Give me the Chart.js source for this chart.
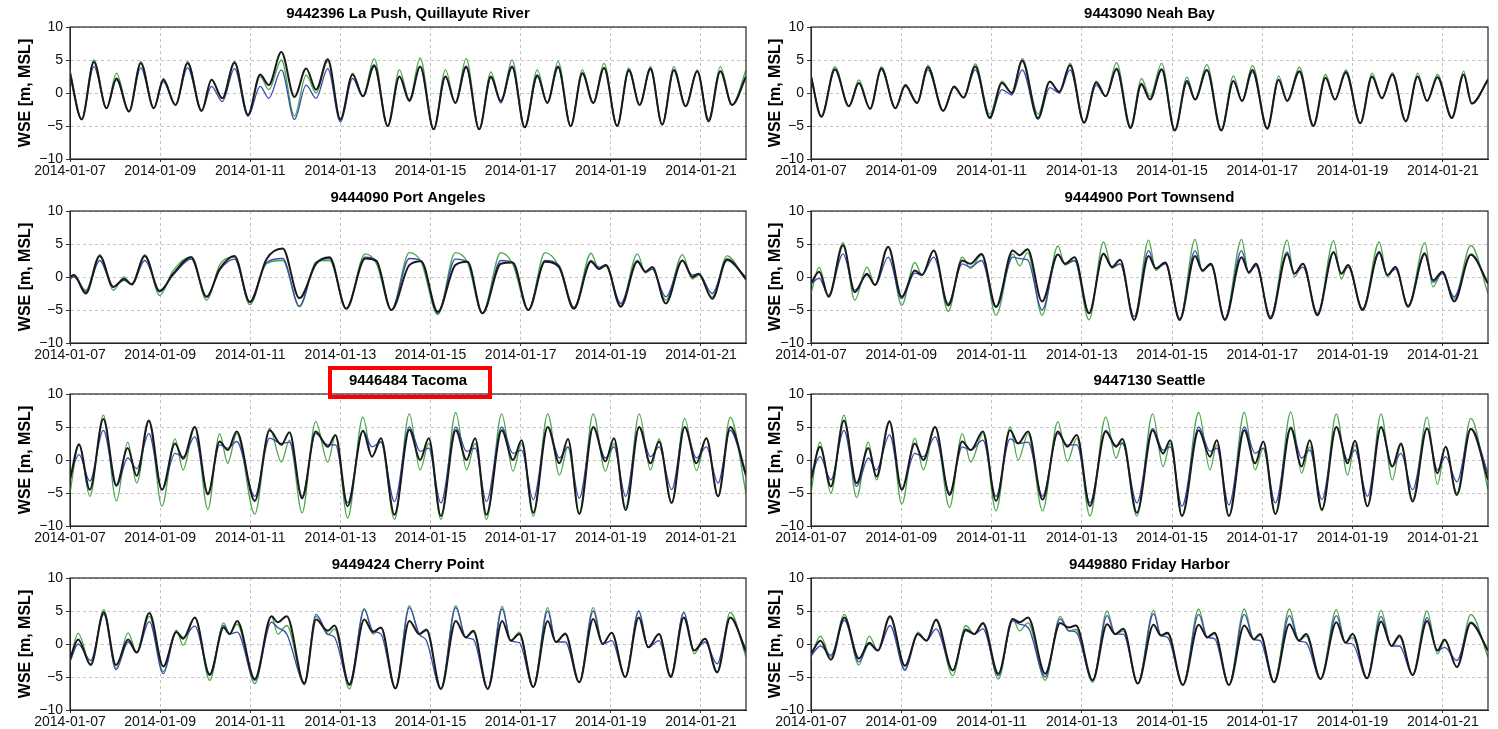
<!DOCTYPE html>
<html>
<head>
<meta charset="utf-8">
<script src="https://cdn.jsdelivr.net/npm/chart.js@4.4.1/dist/chart.umd.min.js"></script>
<style>
  html, body { margin: 0; padding: 0; background: #fff; overflow: hidden; }
  #page { position: relative; width: 1498px; height: 729px; }
  .panel { position: absolute; }
</style>
</head>
<body>
<div id="page"></div>
<script>
// x values are days since 2014-01-07 00:00, y values are WSE in m
const tickDays = [0, 2, 4, 6, 8, 10, 12, 14];
const tickLabels = ["2014-01-07", "2014-01-09", "2014-01-11", "2014-01-13",
  "2014-01-15", "2014-01-17", "2014-01-19", "2014-01-21"];
const yTicks = [-10, -5, 0, 5, 10];

// 9442396 La Push
const laPushT = [0, 0.26, 0.53, 0.81, 1.03, 1.31, 1.57, 1.86, 2.07, 2.34, 2.61, 2.92, 3.14, 3.38, 3.65, 3.95, 4.22, 4.41, 4.69, 4.98, 5.24, 5.46, 5.72, 6.0, 6.27, 6.5, 6.75, 7.05, 7.31, 7.53, 7.77, 8.07, 8.33, 8.55, 8.79, 9.08, 9.34, 9.56, 9.81, 10.09, 10.37, 10.59, 10.83, 11.11, 11.37, 11.61, 11.85, 12.14, 12.4, 12.64, 12.88, 13.14, 13.4, 13.66, 13.92, 14.17, 14.43, 14.69, 15];
const laPushGreen = [3.5, -4, 5, -2.3, 3, -2.8, 4.8, -2.3, 2.2, -1.8, 4.8, -2.7, 2, -0.8, 4.8, -3.5, 2.5, 0.5, 5, -3.5, 2.7, 0, 4.8, -4.2, 3, -0.5, 5.2, -5, 3.5, -1, 5.3, -5.5, 3.5, -1.5, 5.2, -5.5, 3.2, -1.5, 5, -5.2, 3.5, -1.5, 4.8, -5, 3.5, -1.5, 4.5, -5, 3.8, -1.8, 4, -4.8, 4, -2, 3.5, -4, 4, -1.8, 3.5];
const laPushBlue = [2.5, -4, 4, -2.3, 2, -2.8, 3.8, -2.3, 1.7, -1.8, 3.8, -2.7, 1, -1.3, 3.7, -3.5, 1, -0.8, 3.5, -4, 1.2, -0.8, 3.7, -4.4, 2.2, -0.5, 4, -5, 2.5, -1, 4, -5.5, 2.5, -1.5, 3.8, -5.5, 2.3, -1.5, 3.8, -5.2, 2.5, -1.5, 3.8, -5, 3, -1.5, 3.8, -5, 3.3, -1.8, 3.5, -4.8, 3.4, -2, 3.3, -4, 3.3, -1.8, 2.5];
const laPushBlack = [3, -4, 4.7, -2.3, 2.2, -2.8, 4.5, -2.3, 2, -1.8, 4.5, -2.7, 2, -0.8, 4.6, -3.3, 2.8, 1.2, 6.2, -0.6, 3.7, 0.5, 5.1, -4, 2.8, -0.5, 4.2, -5, 2.5, -1.2, 4, -5.5, 2.5, -1.5, 4, -5.5, 2.5, -1.2, 4, -5.2, 2.7, -1.5, 4, -5, 3, -1.5, 3.8, -5, 3.5, -1.8, 3.7, -4.8, 3.5, -2, 3.3, -4.3, 3.3, -1.8, 2.5];

// 9443090 Neah Bay
const neahT = [0, 0.23, 0.53, 0.84, 1.06, 1.31, 1.56, 1.87, 2.09, 2.35, 2.59, 2.93, 3.17, 3.38, 3.64, 3.96, 4.23, 4.45, 4.68, 5.03, 5.29, 5.5, 5.74, 6.05, 6.32, 6.53, 6.77, 7.08, 7.32, 7.51, 7.77, 8.06, 8.33, 8.51, 8.77, 9.09, 9.36, 9.55, 9.78, 10.11, 10.36, 10.55, 10.82, 11.13, 11.4, 11.61, 11.85, 12.17, 12.43, 12.65, 12.88, 13.18, 13.44, 13.65, 13.88, 14.2, 14.46, 14.64, 15];
const neahGreen = [2.7, -3.5, 4, -2, 2, -2.4, 4, -2.3, 1.2, -1.5, 4.2, -2.7, 1, -0.7, 4.4, -3.2, 1.8, 0, 5.2, -3.2, 1.8, 0, 4.5, -4.5, 1.8, -0.5, 4.6, -5, 2.2, -0.5, 4.5, -5.5, 2.4, -1, 4.3, -5.5, 2.6, -1.2, 4.2, -5.2, 2.6, -1.2, 3.9, -4.8, 2.8, -1, 3.5, -4.5, 3, -0.8, 3.1, -4.2, 3, -1.2, 2.8, -3.6, 3.3, -1.6, 2.2];
const neahBlue = [2.5, -3.5, 3.5, -2, 1.5, -2.4, 3.6, -2.3, 1, -1.5, 3.5, -2.7, 0.8, -0.7, 3.5, -3.6, 0.5, -0.3, 3.5, -4, 0.8, 0, 3.5, -4.5, 1.2, -0.5, 3.5, -5.3, 1.2, -1, 3.5, -5.7, 1.5, -1, 3.5, -5.7, 1.8, -1.2, 3.2, -5.4, 2, -1.2, 3.2, -5, 2.3, -1, 3, -4.6, 2.5, -0.8, 2.8, -4.3, 2.5, -1.2, 2.4, -3.8, 2.8, -1.6, 2];
const neahBlack = [2.5, -3.6, 3.6, -2, 1.5, -2.4, 3.7, -2.3, 1.2, -1.5, 3.9, -2.7, 1, -0.7, 4, -3.8, 1.5, 0, 4.9, -3.8, 1.7, 0.2, 4.2, -4.5, 1.6, -0.5, 3.7, -5.3, 1.4, -1, 3.6, -5.7, 1.8, -1, 3.5, -5.7, 1.8, -1.2, 3.5, -5.4, 2, -1.2, 3.3, -5, 2.3, -1, 3.2, -4.6, 2.5, -0.8, 2.8, -4.3, 2.5, -1.2, 2.4, -3.8, 2.8, -1.6, 2];

// 9444090 Port Angeles
const angelesT = [0, 0.09, 0.35, 0.66, 0.96, 1.2, 1.37, 1.66, 1.99, 2.29, 2.69, 3.03, 3.32, 3.65, 3.99, 4.36, 4.72, 5.09, 5.46, 5.76, 6.13, 6.55, 6.8, 7.13, 7.53, 7.79, 8.16, 8.55, 8.82, 9.15, 9.56, 9.82, 10.17, 10.54, 10.85, 11.18, 11.56, 11.74, 11.89, 12.22, 12.59, 12.77, 12.92, 13.22, 13.59, 13.81, 13.95, 14.25, 14.58, 15];
const angelesGreen = [-0.5, 0.2, -2, 3.4, -2, 0, -1.2, 3.4, -2.8, 1, 3.1, -3.5, 1.8, 3, -4.2, 2, 2.5, -4.5, 2.3, 2.5, -4.8, 3.5, 2, -5, 3.7, 2.3, -5.7, 3.7, 2.2, -5.5, 3.7, 2, -5, 3.7, 1.6, -4.8, 3.6, 1.2, 1.6, -4.3, 3.5, 0.6, 1.2, -3.5, 3.4, -0.3, 0.3, -3, 3.2, -0.5];
const angelesBlue = [0, 0, -2.2, 2.5, -1.5, -0.5, -1.2, 2.5, -2, 0.3, 2.7, -3, 1, 2.7, -3.7, 2.2, 2.8, -4.4, 2.2, 2.8, -4.8, 3, 2.5, -5, 2.8, 2.5, -5.5, 2.7, 2.3, -5.5, 2.5, 2.2, -5, 2.5, 1.8, -4.6, 2.5, 1.5, 1.8, -4, 2.5, 0.8, 1.2, -3, 2.5, 0.3, 0.5, -2.5, 2.5, 0];
const angelesBlack = [0, 0.3, -2.5, 3.2, -1.5, -0.3, -1.1, 3.2, -2.2, 0.5, 3, -3, 1.2, 3.2, -3.8, 2.7, 4.3, -3.2, 2, 3, -4.8, 2.8, 2.4, -5, 1.8, 2.4, -5.3, 1.8, 2.3, -5.5, 2, 2.2, -5, 2.3, 1.5, -4.8, 2.3, 1.2, 1.8, -4.5, 2.3, 0.8, 1.5, -4, 2.5, 0, 0.5, -3.3, 2.7, -0.3];

// 9444900 Port Townsend
const townsendT = [0, 0.18, 0.39, 0.71, 0.97, 1.24, 1.42, 1.71, 2.01, 2.3, 2.46, 2.72, 3.04, 3.35, 3.53, 3.78, 4.1, 4.47, 4.62, 4.8, 5.12, 5.47, 5.63, 5.84, 6.16, 6.48, 6.67, 6.85, 7.16, 7.48, 7.64, 7.85, 8.17, 8.51, 8.67, 8.86, 9.17, 9.54, 9.7, 9.86, 10.18, 10.55, 10.71, 10.9, 11.22, 11.58, 11.75, 11.9, 12.22, 12.59, 12.77, 12.95, 13.23, 13.6, 13.78, 13.99, 14.25, 14.62, 15];
const townsendGreen = [-2.5, 1.5, -2.8, 5.2, -3.5, 1.5, -1.2, 4.5, -4.3, 2.2, 0.3, 4, -5.2, 3, 1.3, 3.3, -5.8, 3.5, 1.7, 3.7, -5.8, 4.7, 1.8, 2.5, -6.5, 5.3, 1.3, 2, -6.5, 5.6, 1, 2.2, -6.5, 5.7, 0.8, 2, -6.5, 5.7, 0.5, 2, -6.3, 5.6, 0, 2, -5.8, 5.5, -0.3, 1.8, -5, 5.3, 0, 1.5, -4.5, 5.2, -1.5, 0.8, -3.3, 4.8, -2.5];
const townsendBlue = [-1, -0.2, -2.8, 3.5, -2, 0.3, -1.2, 3, -3.3, 0.6, 0.3, 3, -4, 2, 1.5, 2.5, -4.6, 3, 2.8, 2.6, -5, 3.4, 2, 2.5, -5.5, 3.6, 1.5, 2, -6, 4, 1.3, 2, -6.3, 4, 1, 1.8, -6.3, 4, 0.7, 1.7, -6, 3.8, 0.5, 1.5, -5.5, 3.7, 0.5, 1.5, -4.8, 3.6, 0.3, 1.2, -4.3, 3.4, -0.8, 0.5, -3, 3.3, -1];
const townsendBlack = [-1, 0.8, -3, 4.8, -2.3, 0.5, -1.2, 4.6, -3, 1, 0.3, 4, -4.3, 2.5, 2, 3.5, -4.5, 4, 3.3, 4.2, -3.7, 3.4, 2, 3, -5.5, 3.5, 1.5, 2.6, -6.5, 3.2, 1.3, 2.2, -6.5, 3.2, 1, 2, -6.5, 3, 0.7, 2, -6.3, 3.5, 0.5, 2, -5.8, 3.8, 0.5, 1.8, -5, 3.8, 0.3, 1.5, -4.5, 3.6, -0.5, 0.8, -3.7, 3.4, -1];

// 9446484 Tacoma
const tacomaT = [0, 0.2, 0.44, 0.74, 1.03, 1.28, 1.48, 1.75, 2.04, 2.33, 2.51, 2.77, 3.06, 3.32, 3.5, 3.7, 4.1, 4.43, 4.69, 4.87, 5.15, 5.45, 5.72, 5.89, 6.16, 6.5, 6.7, 6.9, 7.2, 7.53, 7.77, 7.96, 8.23, 8.56, 8.8, 8.99, 9.24, 9.58, 9.83, 10.02, 10.28, 10.6, 10.86, 11.05, 11.3, 11.61, 11.88, 12.07, 12.33, 12.63, 12.88, 13.07, 13.35, 13.64, 13.9, 14.12, 14.38, 14.65, 15];
const tacomaGreen = [-5, 2.5, -5.5, 6.8, -6.2, 2.7, -3.5, 5.8, -7, 3.2, -1.5, 5, -7.5, 4, -0.5, 4, -8.2, 4.8, -0.3, 3, -8, 5.8, -0.3, 3.7, -8.8, 6.5, 0.5, 2.8, -9, 7, -1.5, 2.5, -9, 7.2, -1.5, 2.5, -9, 7, -1.7, 2.5, -8.5, 7, -2.3, 2, -8, 7, -1.7, 2.5, -7.2, 7, -1.5, 3.2, -6.5, 6.3, -1.6, 3.3, -5.5, 6.5, -5];
const tacomaBlue = [-2.5, 0.8, -3.2, 4.5, -4, 0.3, -1.3, 4, -4.5, 1, 0.5, 3.5, -5, 2.3, 1.8, 2.8, -5.5, 3.3, 2.5, 2.7, -5.5, 4, 2.3, 2.3, -6.5, 4.5, 2, 2.7, -6.3, 5, 1.3, 1.8, -6.5, 5, 1.3, 1.8, -6.3, 5, 1, 1.5, -6, 5, 0.3, 2, -5.8, 5, 0.3, 2, -5.5, 5, 0.5, 2, -4.5, 5, 0.3, 2, -3.5, 4.5, -2.5];
const tacomaBlack = [-3, 2.3, -4.5, 6.2, -3.8, 1.8, -2.4, 6, -4.5, 2.5, 0.2, 5, -5.2, 2.8, 1.5, 4.3, -6.2, 4.5, 2.3, 4.2, -5.8, 4.3, 2, 3.8, -7, 4.4, 0.5, 3.3, -8.3, 4.6, 0, 3.3, -8.5, 4.5, 0, 3.3, -8.3, 4.5, 0, 3, -8, 5, -0.5, 3.2, -8.2, 5, -0.2, 3.3, -7.6, 5, -0.5, 2.8, -6.5, 5, -0.5, 3.3, -5.5, 5, -2.2];

// 9447130 Seattle
const seattleT = [0, 0.2, 0.44, 0.73, 1.01, 1.27, 1.45, 1.74, 2.01, 2.3, 2.49, 2.75, 3.07, 3.35, 3.54, 3.81, 4.1, 4.41, 4.59, 4.81, 5.13, 5.47, 5.68, 5.89, 6.18, 6.53, 6.76, 6.9, 7.22, 7.57, 7.8, 7.96, 8.22, 8.59, 8.84, 8.99, 9.26, 9.6, 9.84, 10.02, 10.29, 10.63, 10.87, 11.05, 11.32, 11.64, 11.89, 12.05, 12.33, 12.63, 12.88, 13.07, 13.33, 13.65, 13.88, 14.06, 14.31, 14.62, 15];
const seattleGreen = [-5, 2.7, -5, 6.8, -5.7, 2.7, -3, 6, -6.7, 3.3, -1.5, 5, -7.2, 4, -0.3, 4, -7.7, 5, 0, 4, -7.7, 5.8, -0.2, 3.3, -8.5, 6.5, 0.3, 2.7, -8.5, 7, -1, 2.5, -8.5, 7.2, -1.5, 2.3, -8.5, 7.2, -1.5, 1.8, -8.2, 7.3, -2, 2, -7.7, 7, -2.3, 2.3, -7, 7, -3, 2.3, -6, 6.5, -3.7, 2, -5, 6.3, -4.5];
const seattleBlue = [-2.5, 0.5, -3, 4.5, -4, 0.3, -1.5, 3.8, -4.3, 1, 0.5, 3.5, -5, 2, 1.5, 3, -5.5, 3.2, 2.5, 2.7, -5.5, 4, 2.3, 2.3, -6.5, 4.5, 2.2, 2.5, -6.5, 4.8, 1.5, 2, -7, 5, 1.3, 1.8, -6.8, 5, 1, 1.8, -6.5, 5, 0.3, 1.5, -6, 5, 0, 1.5, -5.5, 5, -1, 1, -4.5, 4.8, -1.5, 0.5, -3.3, 4.8, -2];
const seattleBlack = [-3, 2, -4, 6, -3.5, 1.8, -2.5, 5.8, -4.5, 2.5, 0, 5, -5.3, 2.8, 1.5, 4.3, -6.2, 4.5, 2.5, 4.3, -6, 4.3, 2, 3.8, -7, 4.3, 2, 3.2, -8, 4.5, 1, 3, -8.5, 4.5, 0.5, 3, -8.5, 4.5, -0.5, 2.8, -8.2, 4.8, -1, 3, -7.5, 5, -0.5, 2.9, -7, 5, -1, 2.5, -6.3, 4.8, -2, 2, -5.3, 4.7, -3];

// 9449424 Cherry Point
const cherryT = [0, 0.18, 0.46, 0.75, 1.02, 1.29, 1.48, 1.76, 2.07, 2.36, 2.51, 2.77, 3.1, 3.41, 3.54, 3.71, 4.1, 4.47, 4.61, 4.81, 5.2, 5.46, 5.72, 5.87, 6.2, 6.53, 6.72, 6.9, 7.22, 7.53, 7.75, 7.91, 8.23, 8.56, 8.78, 8.95, 9.27, 9.59, 9.78, 9.97, 10.28, 10.6, 10.78, 10.99, 11.3, 11.61, 11.82, 12.02, 12.32, 12.62, 12.83, 13.07, 13.33, 13.62, 13.85, 14.09, 14.36, 14.65, 15];
const cherryGreen = [-2.6, 1.6, -3, 5.2, -3.7, 1.7, -1.3, 4.2, -4.2, 2.1, -0.2, 4, -5.5, 3.2, 1.5, 3, -6, 4.2, 1.5, 2.8, -6.2, 4.2, 1.4, 2.3, -6.8, 5.4, 1.5, 2.5, -6.8, 5.8, 1.5, 2, -6.8, 5.8, 1, 1.8, -6.8, 5.7, 0.5, 1.8, -6.5, 5.5, 0.3, 1.7, -5.8, 5.5, 0, 1.7, -5, 5, -0.5, 1.5, -4.8, 4.8, -1.5, 0.8, -4.2, 4.8, -2];
const cherryBlue = [-2.7, 0, -2.5, 4.5, -3.9, 0.3, -1.3, 3.4, -4.5, 1.8, 1, 2.7, -4.5, 2.8, 1.5, 1.8, -5.5, 3.3, 2.5, 1.5, -5.8, 4.5, 1.5, 1, -6, 5.2, 2, 1.5, -6.7, 5.5, 1.5, 0.5, -6.8, 5.5, 1, 0.7, -6.8, 5.3, 0.5, 0.2, -6.5, 5, 0.3, 0.3, -5.8, 5, 0, 0.5, -5, 5, -0.5, 0.5, -4.8, 4.8, -1, 0.3, -3, 4, -0.8];
const cherryBlack = [-2.3, 0.7, -3.2, 4.8, -3.2, 0.7, -1.3, 4.7, -3.4, 1.8, 0.8, 4, -4.7, 2.5, 1.5, 3.5, -5.3, 4.2, 3.3, 4.2, -6, 3.7, 2, 2.8, -6.2, 3.7, 1.8, 2.5, -6.7, 3.5, 1.5, 2.2, -6.8, 3.5, 1, 2, -6.8, 3.5, 0.5, 1.5, -6.5, 3.5, 0.3, 1.5, -5.8, 3.8, 0, 1.7, -5, 4, -0.5, 1.5, -5, 4, -1, 0.8, -4.3, 4, -1.2];

// 9449880 Friday Harbor
const fridayT = [0, 0.21, 0.44, 0.74, 1.06, 1.29, 1.48, 1.75, 2.08, 2.37, 2.56, 2.77, 3.14, 3.43, 3.62, 3.81, 4.15, 4.47, 4.62, 4.81, 5.19, 5.52, 5.71, 5.87, 6.24, 6.56, 6.74, 6.92, 7.24, 7.59, 7.75, 7.9, 8.24, 8.59, 8.78, 8.94, 9.26, 9.6, 9.81, 9.95, 10.26, 10.6, 10.81, 10.97, 11.29, 11.64, 11.84, 12.0, 12.32, 12.63, 12.86, 13.04, 13.33, 13.65, 13.88, 14.04, 14.31, 14.62, 15];
const fridayGreen = [-2, 1.2, -2, 4.5, -3.2, 1.2, -1, 4, -3.8, 1.8, 0.5, 3.5, -4.8, 2.8, 1.5, 3, -5.3, 3.8, 2, 3.2, -5.5, 4.2, 2, 2.2, -5.8, 5, 1.5, 2, -6, 5.1, 1.3, 1.5, -6.2, 5.3, 1, 1.5, -6.2, 5.3, 0.7, 1.3, -5.8, 5.3, 0.5, 1.2, -5.3, 5.2, 0.2, 1, -5.2, 5.1, -0.3, 1, -4.7, 5, -1.5, 0.5, -3.5, 4.5, -2];
const fridayBlue = [-1.8, -0.3, -1.7, 3.6, -2.7, 0, -1, 2.8, -4, 1.5, 0.5, 2.3, -4, 2, 1.5, 2.3, -4.8, 3.5, 3, 2.5, -5, 3.8, 2, 1.8, -5.5, 4.3, 1.5, 1.5, -6, 4.6, 1.3, 1, -6.2, 4.5, 1, 0.8, -6.2, 4.5, 0.7, 0.5, -5.8, 4.3, 0.5, 0.2, -5.3, 4.3, 0.2, 0, -5.2, 4.2, -0.3, -0.3, -4.7, 4, -1, -0.5, -2.5, 3.3, -1];
const fridayBlack = [-1.5, 0.5, -2.4, 4, -2.2, 0.2, -1, 4.2, -3.3, 1.5, 0.5, 3.7, -4, 2.2, 1.5, 3.2, -4.5, 3.8, 3.3, 4, -4.5, 3.2, 2.5, 2.8, -5.5, 3, 1.5, 2.3, -6, 2.9, 1.3, 1.7, -6.2, 2.9, 1, 1.7, -6.2, 2.8, 0.7, 1.5, -5.8, 3, 0.5, 1.5, -5.3, 3.3, 0.2, 1.5, -5.2, 3.4, -0.3, 1.3, -4.7, 3.5, -1, 0.7, -3.5, 3.2, -1];

const panels = [
  { title: "9442396 La Push, Quillayute River", t: laPushT, green: laPushGreen, blue: laPushBlue, black: laPushBlack },
  { title: "9443090 Neah Bay", t: neahT, green: neahGreen, blue: neahBlue, black: neahBlack },
  { title: "9444090 Port Angeles", t: angelesT, green: angelesGreen, blue: angelesBlue, black: angelesBlack },
  { title: "9444900 Port Townsend", t: townsendT, green: townsendGreen, blue: townsendBlue, black: townsendBlack },
  { title: "9446484 Tacoma", t: tacomaT, green: tacomaGreen, blue: tacomaBlue, black: tacomaBlack, highlight: true },
  { title: "9447130 Seattle", t: seattleT, green: seattleGreen, blue: seattleBlue, black: seattleBlack },
  { title: "9449424 Cherry Point", t: cherryT, green: cherryGreen, blue: cherryBlue, black: cherryBlack },
  { title: "9449880 Friday Harbor", t: fridayT, green: fridayGreen, blue: fridayBlue, black: fridayBlack }
];

// plot area tops for the four rows
const areaTops = [27, 210.5, 394, 578];
const AREA_H = 132;
const PAD_TOP = 32;

Chart.defaults.font.family = "'Liberation Sans', Arial, Helvetica, sans-serif";
Chart.defaults.color = "#111";
Chart.defaults.animation = false;

function hasFont(name) {
  const c = document.createElement("canvas").getContext("2d");
  c.font = "40px monospace";
  const base = c.measureText("2014-01-07 WSE").width;
  c.font = `40px '${name}', monospace`;
  return c.measureText("2014-01-07 WSE").width !== base;
}
const narrow = hasFont("Liberation Sans Narrow");
const xTickFont = narrow ? { family: "'Liberation Sans Narrow', Arial", size: 17 } : { size: 14 };

// frame, title and the red highlight box
const panelDecor = {
  id: "panelDecor",
  afterDraw(chart, args, opts) {
    const { ctx, chartArea: a } = chart;
    ctx.save();
    ctx.strokeStyle = "#262626";
    ctx.lineWidth = 1.2;
    ctx.strokeRect(a.left, a.top, a.right - a.left, a.bottom - a.top);

    const cx = (a.left + a.right) / 2;
    const cy = a.top - 13;
    ctx.fillStyle = "#000";
    ctx.font = "bold 15px 'Liberation Sans', Arial, sans-serif";
    ctx.textAlign = "center";
    ctx.textBaseline = "middle";
    ctx.fillText(opts.text, cx, cy);

    if (opts.highlight) {
      ctx.strokeStyle = "#ff0000";
      ctx.lineWidth = 4;
      ctx.strokeRect(cx - 78, cy - 13, 160, 29);
    }
    ctx.restore();
  }
};

function makePanel(p, i) {
  const col = i % 2;
  const row = Math.floor(i / 2);
  const width = col === 0 ? 750 : 748;
  const axisW = col === 0 ? 70 : 61;
  const height = PAD_TOP + AREA_H + 22;

  const canvas = document.createElement("canvas");
  canvas.className = "panel";
  canvas.width = width;
  canvas.height = height;
  canvas.style.left = (col === 0 ? 0 : 750) + "px";
  canvas.style.top = (areaTops[row] - PAD_TOP) + "px";
  document.getElementById("page").appendChild(canvas);

  const pts = vals => p.t.map((x, k) => ({ x: x, y: vals[k] }));
  const line = (vals, color, w) => ({
    data: pts(vals),
    borderColor: color,
    borderWidth: w,
    pointRadius: 0,
    cubicInterpolationMode: "monotone",
    fill: false
  });

  new Chart(canvas, {
    type: "line",
    data: {
      // first dataset is drawn on top
      datasets: [
        line(p.black, "#1a1a1a", 2),
        line(p.blue, "#3a4bb0", 1.3),
        line(p.green, "#4ca64c", 1.3)
      ]
    },
    options: {
      responsive: false,
      animation: false,
      layout: { padding: { top: PAD_TOP, bottom: 2, left: 0, right: col === 0 ? 4 : 10 } },
      plugins: {
        legend: { display: false },
        tooltip: { enabled: false },
        panelDecor: { text: p.title, highlight: !!p.highlight }
      },
      scales: {
        x: {
          type: "linear",
          min: 0,
          max: 15,
          afterBuildTicks: s => { s.ticks = tickDays.map(v => ({ value: v })); },
          afterFit: s => { s.height = 20; },
          ticks: {
            autoSkip: false,
            maxRotation: 0,
            minRotation: 0,
            padding: 1,
            color: "#111",
            font: xTickFont,
            callback: (v, idx) => tickLabels[idx]
          },
          grid: { color: "#c4c4c4", lineWidth: 1, tickLength: 3, tickColor: "#333" },
          border: { display: true, color: "#262626", width: 1, dash: [3, 3] }
        },
        y: {
          min: -10,
          max: 10,
          afterBuildTicks: s => { s.ticks = yTicks.map(v => ({ value: v })); },
          afterFit: s => { s.width = axisW; },
          ticks: {
            padding: 3,
            color: "#111",
            font: { size: 14 },
            callback: v => (v < 0 ? "\u2212" + (-v) : String(v))
          },
          grid: { color: "#c4c4c4", lineWidth: 1, tickLength: 4, tickColor: "#333" },
          border: { display: true, color: "#262626", width: 1, dash: [3, 3] },
          title: {
            display: true,
            text: "WSE [m, MSL]",
            color: "#000",
            font: { size: 16, weight: "bold" },
            padding: { top: 16, bottom: 0 }
          }
        }
      }
    },
    plugins: [panelDecor]
  });
}

panels.forEach(makePanel);
</script>
</body>
</html>
